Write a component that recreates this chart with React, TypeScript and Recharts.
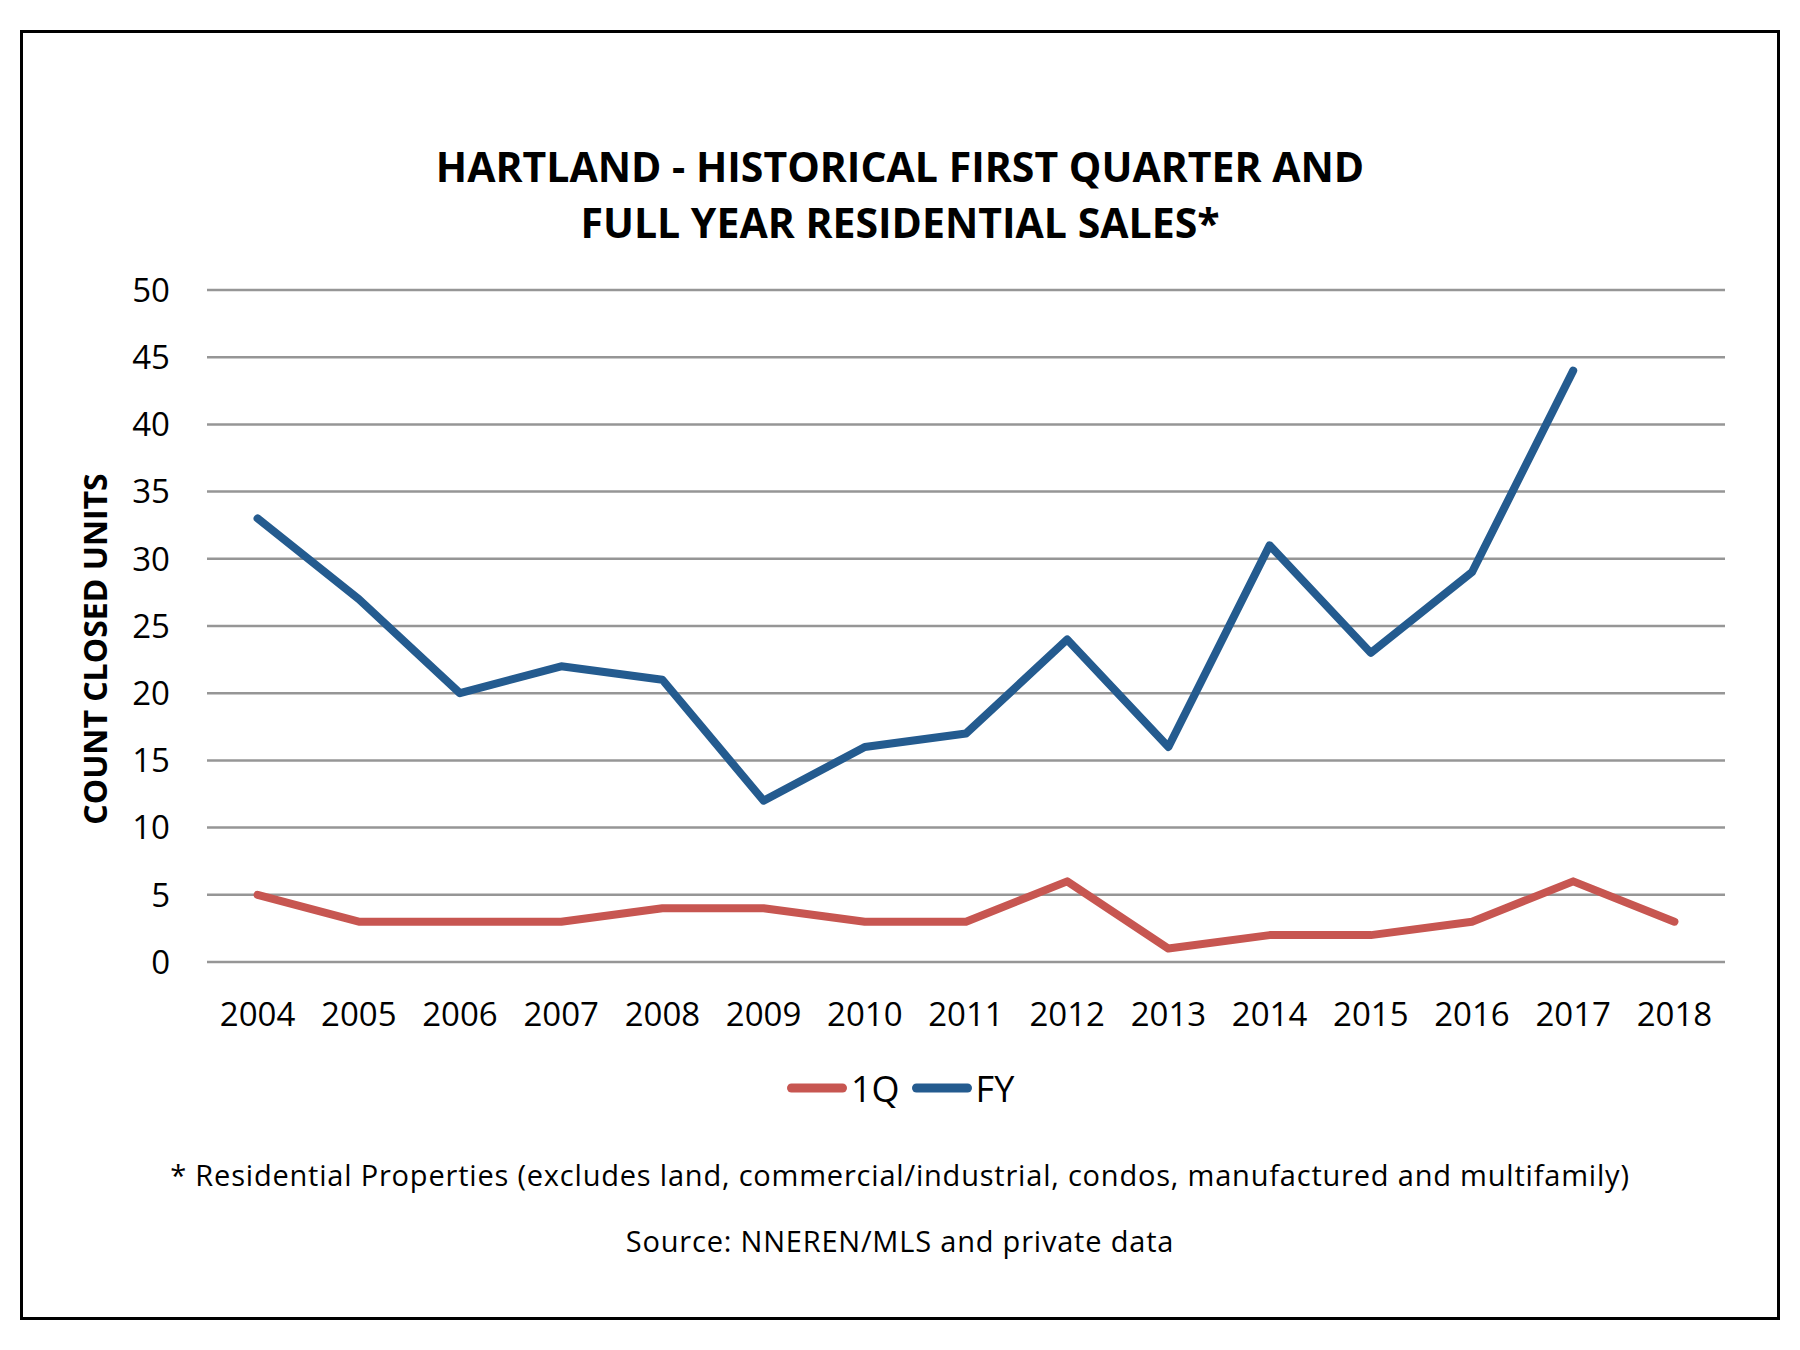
import { LineChart, Line, XAxis, YAxis, CartesianGrid } from 'recharts';

const years = ['2004', '2005', '2006', '2007', '2008', '2009', '2010', '2011', '2012', '2013', '2014', '2015', '2016', '2017', '2018'];
const firstQuarter = [5, 3, 3, 3, 4, 4, 3, 3, 6, 1, 2, 2, 3, 6, 3];
const fullYear: (number | null)[] = [33, 27, 20, 22, 21, 12, 16, 17, 24, 16, 31, 23, 29, 44, null];
const yTicks = [0, 5, 10, 15, 20, 25, 30, 35, 40, 45, 50];

const RED = '#C75651';
const BLUE = '#245B8F';
const FONT = '"Open Sans", sans-serif';

const data = years.map((year, i) => ({ year, q1: firstQuarter[i], fy: fullYear[i] }));

const legendItems = [
  { label: '1Q', color: RED },
  { label: 'FY', color: BLUE },
];

const footStyle: React.CSSProperties = {
  position: 'absolute',
  left: 0,
  width: 1800,
  textAlign: 'center',
  fontSize: 29,
  letterSpacing: 0.8,
  lineHeight: '40px',
  color: '#000',
};

export default function App() {
  return (
    <div style={{ position: 'absolute', left: 0, top: 0, width: 1800, height: 1350, background: '#fff', fontFamily: FONT }}>
      <div
        style={{
          position: 'absolute',
          left: 20,
          top: 30,
          width: 1754,
          height: 1284,
          border: '3px solid #000',
        }}
      />
      <div
        style={{
          position: 'absolute',
          left: 0,
          top: 138,
          width: 1800,
          textAlign: 'center',
          fontSize: 41,
          lineHeight: '56px',
          fontWeight: 700,
          color: '#000',
        }}
      >
        HARTLAND - HISTORICAL FIRST QUARTER AND
        <br />
        FULL YEAR RESIDENTIAL SALES*
      </div>
      <div
        style={{
          position: 'absolute',
          left: 94,
          top: 649,
          transform: 'translate(-50%, -50%) rotate(-90deg)',
          whiteSpace: 'nowrap',
          fontSize: 32,
          fontWeight: 700,
          color: '#000',
        }}
      >
        COUNT CLOSED UNITS
      </div>
      <div style={{ position: 'absolute', left: 0, top: 0 }}>
        <LineChart width={1800} height={1050} data={data} margin={{ top: 290, right: 75, bottom: 28, left: 0 }}>
          <CartesianGrid vertical={false} stroke="#969696" strokeWidth={2.5} />
          <XAxis
            dataKey="year"
            axisLine={false}
            tickLine={false}
            tickSize={0}
            tickMargin={41}
            height={60}
            interval={0}
            padding={{ left: 50.6, right: 50.6 }}
            tick={{ fill: '#000', fontSize: 33, fontFamily: FONT }}
          />
          <YAxis
            domain={[0, 50]}
            ticks={yTicks}
            axisLine={false}
            tickLine={false}
            tickSize={0}
            tickMargin={37}
            width={207}
            tick={{ fill: '#000', fontSize: 33, fontFamily: FONT }}
          />
          <Line type="linear" dataKey="q1" stroke={RED} strokeWidth={8} strokeLinecap="round" strokeLinejoin="round" dot={false} isAnimationActive={false} />
          <Line type="linear" dataKey="fy" stroke={BLUE} strokeWidth={8} strokeLinecap="round" strokeLinejoin="round" dot={false} isAnimationActive={false} />
        </LineChart>
      </div>
      <div
        style={{
          position: 'absolute',
          left: 787,
          top: 1088,
          transform: 'translateY(-50%)',
          display: 'flex',
          alignItems: 'center',
          fontSize: 36,
          color: '#000',
        }}
      >
        {legendItems.map((item) => (
          <div key={item.label} style={{ display: 'flex', alignItems: 'center', marginRight: 12 }}>
            <div style={{ width: 60, height: 9, borderRadius: 5, background: item.color, marginRight: 4 }} />
            <span>{item.label}</span>
          </div>
        ))}
      </div>
      <div style={{ ...footStyle, top: 1155 }}>
        * Residential Properties (excludes land, commercial/industrial, condos, manufactured and multifamily)
      </div>
      <div style={{ ...footStyle, top: 1221 }}>Source: NNEREN/MLS and private data</div>
    </div>
  );
}
